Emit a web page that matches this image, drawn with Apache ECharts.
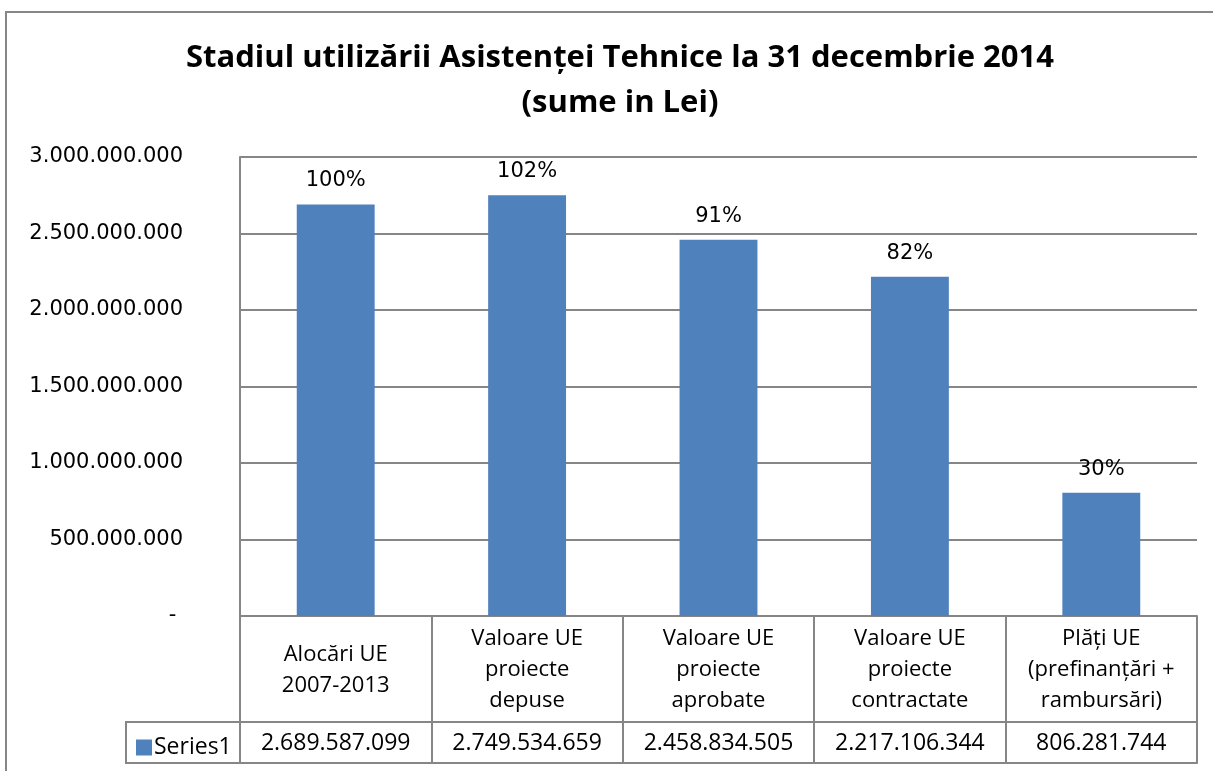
<!DOCTYPE html>
<html>
<head>
<meta charset="utf-8">
<script src="https://cdn.jsdelivr.net/npm/echarts@6/dist/echarts.min.js"></script>
<style>
	html, body { margin: 0; padding: 0; background: #fff; }
	#chart { width: 1213px; height: 771px; }
</style>
</head>
<body>
<div id="chart"></div>
<script>
	// date grafic
	var categories = [
		'Alocări UE\n2007-2013',
		'Valoare UE\nproiecte\ndepuse',
		'Valoare UE\nproiecte\naprobate',
		'Valoare UE\nproiecte\ncontractate',
		'Plăți UE\n(prefinanțări +\nrambursări)'
	];
	var values = [2689587099, 2749534659, 2458834505, 2217106344, 806281744];
	var percents = ['100%', '102%', '91%', '82%', '30%'];
	var seriesName = 'Series1';

	var gridColor = '#868686';
	var barColor = '#4F81BD';
	var font = 'Open Sans';

	// 1.234.567 format
	function fmt(v) {
		return String(v).replace(/\B(?=(\d{3})+(?!\d))/g, '.');
	}

	var chartTop = 157, chartBottom = 616, chartLeft = 240, chartRight = 1197;
	var row1 = 106, row2 = 147;

	var myChart = echarts.init(document.getElementById('chart'));
	var option = {
		animation: false,
		title: {
			text: 'Stadiul utilizării Asistenței Tehnice la 31 decembrie 2014\n(sume in Lei)',
			left: 615,
			top: 31,
			textAlign: 'center',
			textStyle: {
				fontFamily: font,
				fontWeight: 'bold',
				fontSize: 31,
				lineHeight: 45,
				color: '#000'
			}
		},
		legend: {
			data: [seriesName],
			left: 131,
			top: 731,
			itemWidth: 16,
			itemHeight: 16,
			itemGap: 0,
			icon: 'rect',
			textStyle: { fontFamily: font, fontSize: 23, color: '#000', padding: [0, 0, 0, -3] }
		},
		grid: {
			left: chartLeft,
			top: chartTop,
			right: 1213 - chartRight,
			bottom: 771 - chartBottom,
			containLabel: false
		},
		xAxis: [{
			type: 'category',
			data: categories,
			axisLine: { lineStyle: { color: gridColor, width: 2 } },
			axisTick: { show: true, interval: 0, length: row2, lineStyle: { color: gridColor, width: 2 } },
			axisLabel: {
				interval: 0,
				margin: 54,
				verticalAlign: 'middle',
				lineHeight: 31,
				fontFamily: font,
				fontSize: 22,
				color: '#000'
			}
		}, {
			type: 'category',
			position: 'bottom',
			offset: row1,
			data: values.map(fmt),
			axisLine: { lineStyle: { color: gridColor, width: 2 } },
			axisTick: { show: false },
			axisLabel: {
				interval: 0,
				margin: 21,
				verticalAlign: 'middle',
				fontFamily: font,
				fontSize: 23,
				color: '#000'
			}
		}, {
			type: 'category',
			position: 'bottom',
			offset: row2,
			data: categories,
			axisLine: { lineStyle: { color: gridColor, width: 2 } },
			axisTick: { show: false },
			axisLabel: { show: false }
		}],
		yAxis: {
			type: 'value',
			min: 0,
			max: 3000000000,
			interval: 500000000,
			axisLine: { show: true, lineStyle: { color: gridColor, width: 2 } },
			axisTick: { show: false },
			splitLine: { lineStyle: { color: gridColor, width: 2 } },
			axisLabel: {
				margin: 57,
				fontFamily: 'DejaVu Sans',
				fontSize: 21,
				color: '#000',
				formatter: function(v) {
					return v === 0 ? '- ' : fmt(v);
				}
			}
		},
		series: [{
			name: seriesName,
			type: 'bar',
			data: values,
			barWidth: '40.7%',
			itemStyle: { color: barColor },
			label: {
				show: true,
				position: 'top',
				distance: 13,
				fontFamily: 'DejaVu Sans',
				fontSize: 21,
				color: '#000',
				formatter: function(p) {
					return percents[p.dataIndex];
				}
			}
		}],
		graphic: [{
			// chenar exterior
			type: 'rect',
			shape: { x: 6, y: 12, width: 1300, height: 900 },
			style: { fill: 'none', stroke: gridColor, lineWidth: 2 },
			silent: true
		}, {
			// celula legenda
			type: 'rect',
			shape: { x: 126, y: chartBottom + row1, width: chartLeft - 126, height: row2 - row1 },
			style: { fill: 'none', stroke: gridColor, lineWidth: 2 },
			silent: true
		}]
	};
	myChart.setOption(option);
</script>
</body>
</html>
